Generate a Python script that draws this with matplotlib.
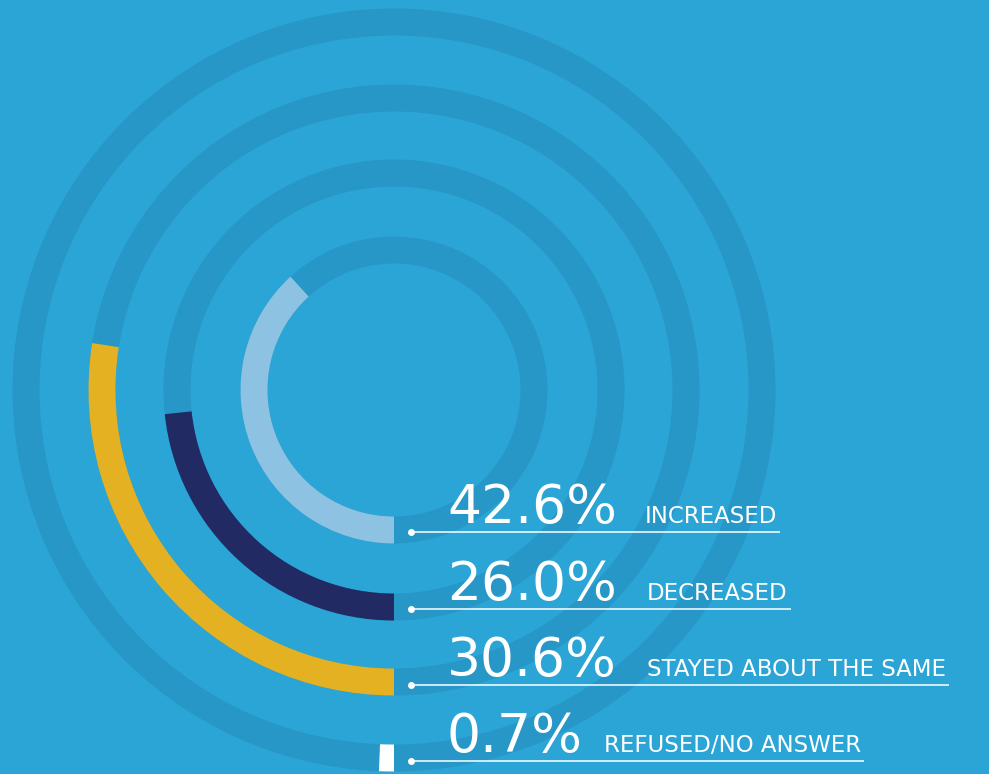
import numpy as np
import matplotlib
matplotlib.use('Agg')
import matplotlib.pyplot as plt

# survey answers, innermost ring first
categories = ['INCREASED', 'DECREASED', 'STAYED ABOUT THE SAME', 'REFUSED/NO ANSWER']
values = [42.6, 26.0, 30.6, 0.7]
pct_labels = ['42.6%', '26.0%', '30.6%', '0.7%']
colors = ['#8EC2E3', '#212A63', '#E3B122', '#FFFFFF']

bg = '#2BA5D6'
track = '#2697C7'
deg_per_pct = 3.23   # how far round the ring one percent goes

W, H = 989, 774
cx, cy = 394, 390          # ring centre, pixels from top-left
rmax = 400
ring_mid = [140, 217, 292, 368]
ring_w = 27

fig = plt.figure(figsize=(W / 100, H / 100), dpi=100, facecolor=bg)

pol = fig.add_axes([(cx - rmax) / W, (H - cy - rmax) / H, 2 * rmax / W, 2 * rmax / H],
                   projection='polar')
pol.set_theta_zero_location('S')
pol.set_theta_direction(-1)
pol.set_ylim(0, rmax)
pol.axis('off')
pol.patch.set_alpha(0)

for r in ring_mid:
    pol.bar(0, ring_w, width=2 * np.pi, bottom=r - ring_w / 2, color=track,
            linewidth=0, align='edge')
for r, v, c in zip(ring_mid, values, colors):
    pol.bar(0, ring_w, width=np.deg2rad(v * deg_per_pct), bottom=r - ring_w / 2,
            color=c, linewidth=0, align='edge')

# overlay in pixel coords for the labels
ov = fig.add_axes([0, 0, 1, 1])
ov.set_xlim(0, W)
ov.set_ylim(H, 0)
ov.axis('off')
ov.patch.set_alpha(0)

font = 'DejaVu Sans'
base_y = [523, 600, 676, 752]
label_x = [645, 647, 647, 604]
pct_x = 447

label_texts = []
for y, p, lab, lx in zip(base_y, pct_labels, categories, label_x):
    ov.text(pct_x, y, p, color='white', fontsize=38.5, family=font,
            va='baseline', ha='left')
    t = ov.text(lx, y, lab, color='white', fontsize=16.5, family=font,
                va='baseline', ha='left')
    label_texts.append(t)

fig.canvas.draw()
inv = ov.transData.inverted()
for y, t in zip(base_y, label_texts):
    bb = t.get_window_extent()
    x_end = inv.transform((bb.x1, bb.y0))[0] + 3
    ly = y + 9
    ov.plot([411, x_end], [ly, ly], color='white', lw=1.3, alpha=0.85,
            solid_capstyle='butt')
    ov.plot(411, ly, 'o', color='white', ms=5, mew=0)

fig.savefig('out.png', dpi=100, facecolor=bg)
